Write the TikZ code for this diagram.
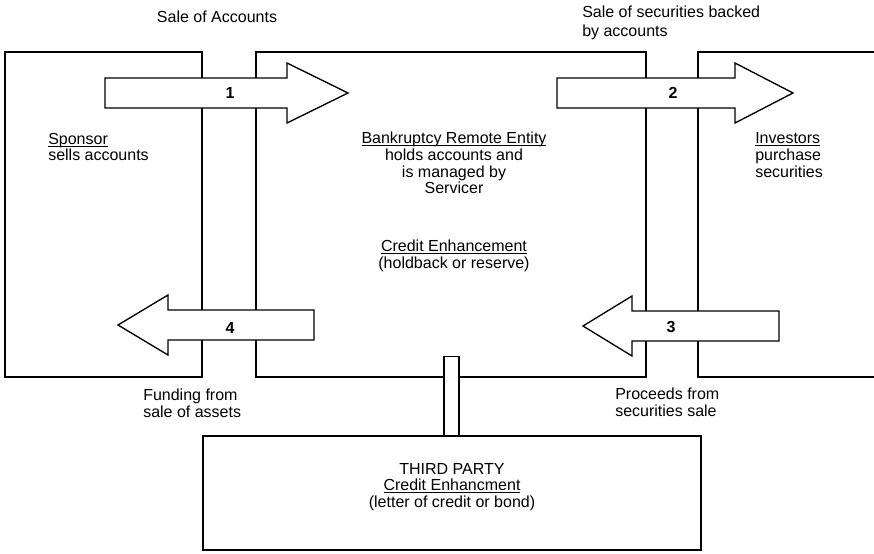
\documentclass[tikz,border=0pt]{standalone}
\usepackage{fontspec}
\setmainfont{Liberation Sans}
\usetikzlibrary{fit}

\tikzset{
  box/.style={draw, line width=1pt, inner sep=0pt},
  blockarrow/.style={draw, fill=white, line width=1pt, line join=miter},
  lbl/.style={inner sep=0pt, font=\fontsize{12}{12.5}\selectfont},
  num/.style={inner sep=0pt, font=\fontsize{12}{12}\selectfont\bfseries}
}
% underline close to the baseline
\newcommand{\ulined}[1]{\underline{\smash{#1}}\vphantom{#1}}
% tail, head base, tip, middle height
\newcommand{\blockarrow}[4]{%
  \draw[blockarrow] (#1,#4-15) -- (#2,#4-15) -- (#2,#4-30) -- (#3,#4)
    -- (#2,#4+30) -- (#2,#4+15) -- (#1,#4+15) -- cycle;}

\begin{document}
\begin{tikzpicture}[x=0.75pt, y=-0.75pt]
  \useasboundingbox (0,0) rectangle (874,553);

  % the parties
  \node[box, fit={(5,52) (202,377)}] (sponsor) {};
  \node[box, fit={(256,52) (646,377)}] (bre) {};
  \node[box, fit={(203,436) (701,550)}] (third) {};
  \draw[line width=1pt] (874,52) -- (698,52) -- (698,377) -- (874,377);

  % link to the third party
  \draw[box, fill=white] ([xshift=-6pt]third.north) rectangle ([xshift=6pt, yshift=15.75pt]bre.south);

  % the flows
  \blockarrow{105}{287}{348}{93}
  \blockarrow{557}{735}{793}{93}
  \blockarrow{779}{632}{583}{326}
  \blockarrow{314}{168}{118}{325}
  \node[num] (n1) at (230,93) {1};
  \node[num] (n2) at (673,93) {2};
  \node[num] (n3) at (671,327) {3};
  \node[num] (n4) at (230,328) {4};

  % texts
  \node[lbl] (saleacc) at (217,17) {Sale of Accounts};
  \node[lbl, anchor=west, align=left] (salesec) at (582,23) {Sale of securities backed\\[1.5pt]by accounts};
  \node[lbl, anchor=west, align=left] (spontxt) at (48,147) {\ulined{Sponsor}\\sells accounts};
  \node[lbl, align=center] (bretxt) at (454,163) {\ulined{Bankruptcy Remote Entity}\\holds accounts and\\is managed by\\Servicer};
  \node[lbl, align=center] (cetxt) at (454,256) {\ulined{Credit Enhancement}\\(holdback or reserve)};
  \node[lbl, anchor=west, align=left] (invtxt) at (755,155) {\ulined{Investors}\\purchase\\securities};
  \node[lbl, anchor=west, align=left] (fund) at (143,403) {Funding from\\sale of assets};
  \node[lbl, anchor=west, align=left] (proc) at (615,402) {Proceeds from\\securities sale};
  \node[lbl, align=center] (tptxt) at (452,487) {THIRD PARTY\\\ulined{Credit Enhancment}\\(letter of credit or bond)};
\end{tikzpicture}
\end{document}
